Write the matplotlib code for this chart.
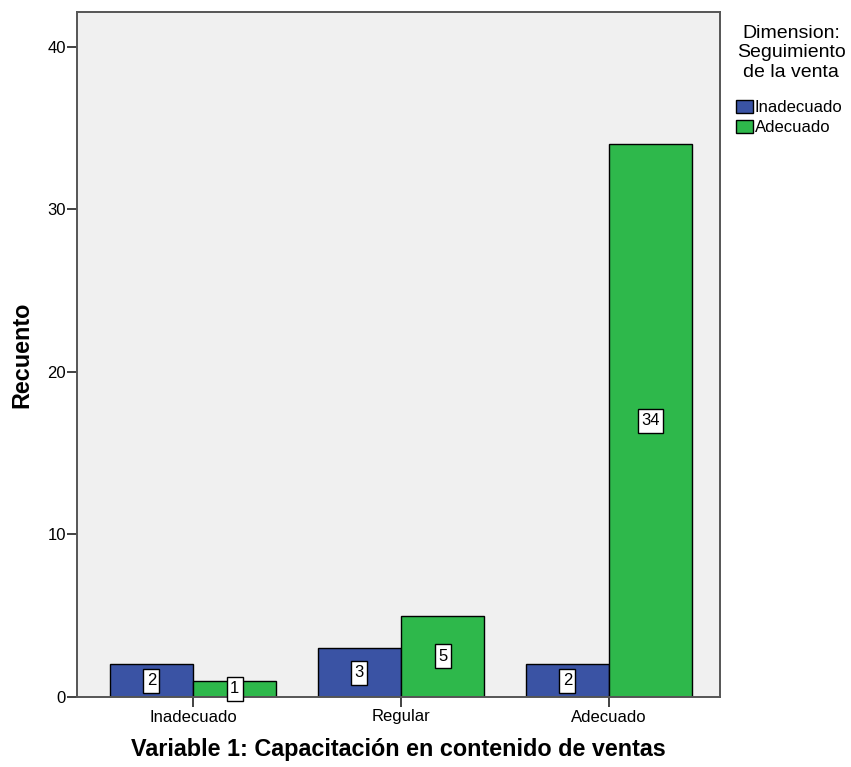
import matplotlib
matplotlib.use("Agg")
import matplotlib.pyplot as plt
import numpy as np
from matplotlib.patches import Patch
from matplotlib.path import Path

plt.rcParams['font.family'] = ['Liberation Sans', 'DejaVu Sans']

categories = ["Inadecuado", "Regular", "Adecuado"]
series_names = ["Inadecuado", "Adecuado"]
inadecuado = [2, 3, 2]
adecuado = [1, 5, 34]
colors = ["#3a53a4", "#2eb84b"]

W, H = 851, 767
fig = plt.figure(figsize=(W/100, H/100), dpi=100)
ax = fig.add_axes([77/W, 70/H, (720-77)/W, (697-12)/H])
ax.set_facecolor("#f0f0f0")


def label_box(x0, y0, width, height, mutation_size):
    padx = 0.2 * mutation_size
    pady = 0.27 * mutation_size
    x0 -= padx
    y0 -= pady
    x1 = x0 + width + 2 * padx
    y1 = y0 + height + 2 * pady
    return Path([(x0, y0), (x1, y0), (x1, y1), (x0, y1), (x0, y0)],
                [Path.MOVETO, Path.LINETO, Path.LINETO, Path.LINETO, Path.CLOSEPOLY])


x = np.arange(len(categories))
w = 0.4
for i, (vals, c) in enumerate(zip([inadecuado, adecuado], colors)):
    offs = -w/2 if i == 0 else w/2
    bars = ax.bar(x + offs, vals, width=w, color=c, edgecolor="black", linewidth=1.0, zorder=2)
    for b, v in zip(bars, vals):
        ax.text(b.get_x() + b.get_width()/2, v/2, str(v), ha="center", va="center",
                fontsize=12, zorder=3, clip_on=False,
                bbox=dict(boxstyle=label_box, facecolor="white", edgecolor="black", linewidth=1.0))

ax.set_xlim(-0.558, 2.534)
ax.set_ylim(0, 42.15)
ax.set_yticks([0, 10, 20, 30, 40])
ax.set_xticks(x)
ax.set_xticklabels(categories)
ax.tick_params(axis="both", labelsize=12, length=7, width=1.3, color="#333333", direction="out")
ax.tick_params(axis="y", pad=1)
ax.tick_params(axis="x", pad=2)
for s in ax.spines.values():
    s.set_color("#555555")
    s.set_linewidth(1.4)

ax.set_ylabel("Recuento", fontsize=16.8, fontweight="bold")
ax.yaxis.set_label_coords(-0.0684, 0.5)
ax.set_xlabel("Variable 1: Capacitación en contenido de ventas", fontsize=16.8, fontweight="bold")
ax.xaxis.set_label_coords(0.5, -0.0599)

fig.text(791/W, 1 - 25/H, "Dimension:\nSeguimiento\nde la venta", ha="center", va="top",
         fontsize=14, linespacing=1.18)

handles = [Patch(facecolor=c, edgecolor="black", label=n) for c, n in zip(colors, series_names)]
leg = fig.legend(handles=handles, loc="upper left", bbox_to_anchor=(736/W, 1 - 100/H),
                 frameon=False, fontsize=12,
                 handlelength=1.0, handleheight=0.85, handletextpad=0.12,
                 labelspacing=0.26, borderaxespad=0, borderpad=0)

fig.savefig("out.png", dpi=100)
